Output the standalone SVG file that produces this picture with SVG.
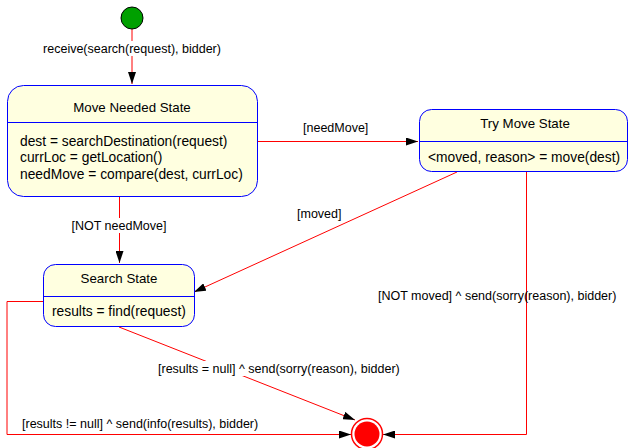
<svg xmlns="http://www.w3.org/2000/svg" width="628" height="448" viewBox="0 0 628 448">
<style>
text{font-family:"Liberation Sans",Arial,sans-serif;font-size:12.5px;fill:#000}
.t{font-size:13.3px}
.b{font-size:13.8px}
.st{fill:#ffffe0;stroke:#0000ff;stroke-width:1}
.dv{stroke:#0000ff;stroke-width:1}
.c{fill:none;stroke:#ff0000;stroke-width:1}
.lb{fill:#fff}
</style>
<defs>
<marker id="ah" markerWidth="12" markerHeight="8" refX="12" refY="4" orient="auto" markerUnits="userSpaceOnUse">
<path d="M0,0 L12,4 L0,8 Z" fill="#000"/>
</marker>
</defs>
<rect width="628" height="448" fill="#fff"/>
<g id="connectors">
<line class="c" x1="132" y1="29" x2="132" y2="84" marker-end="url(#ah)"/>
<line class="c" x1="257" y1="141.5" x2="418" y2="141.5" marker-end="url(#ah)"/>
<line class="c" x1="119.5" y1="196" x2="119.5" y2="263" marker-end="url(#ah)"/>
<line class="c" x1="457" y1="172" x2="194" y2="292" marker-end="url(#ah)"/>
<polyline class="c" points="526.5,172 526.5,434.5 383,434.5" marker-end="url(#ah)"/>
<polyline class="c" points="43,301.5 7,301.5 7,434.5 351,434.5" marker-end="url(#ah)"/>
<line class="c" x1="119" y1="327" x2="355" y2="420" marker-end="url(#ah)"/>
</g>
<g id="labels">
<rect class="lb" x="38" y="41" width="188" height="15"/>
<text x="132" y="53" text-anchor="middle">receive(search(request), bidder)</text>
<text x="303" y="132">[needMove]</text>
<rect class="lb" x="70" y="218" width="98" height="15"/>
<text x="119" y="230" text-anchor="middle">[NOT needMove]</text>
<text x="297" y="218">[moved]</text>
<text x="378" y="300">[NOT moved] ^ send(sorry(reason), bidder)</text>
<rect class="lb" x="156" y="361" width="246" height="15"/>
<text x="158" y="373">[results = null] ^ send(sorry(reason), bidder)</text>
<text x="22" y="428">[results != null] ^ send(info(results), bidder)</text>
</g>
<g id="initial">
<circle cx="132" cy="18" r="11" fill="#00a000" stroke="#000" stroke-width="1"/>
</g>
<g id="moveNeeded">
<rect class="st" x="7.5" y="85.5" width="250" height="111" rx="16"/>
<line class="dv" x1="7.5" y1="122.5" x2="257.5" y2="122.5"/>
<text class="t" x="132" y="112" text-anchor="middle">Move Needed State</text>
<text class="b" x="20" y="145.5">dest = searchDestination(request)</text>
<text class="b" x="20" y="162">currLoc = getLocation()</text>
<text class="b" x="20" y="179">needMove = compare(dest, currLoc)</text>
</g>
<g id="tryMove">
<rect class="st" x="419.5" y="109.5" width="208" height="62" rx="12"/>
<line class="dv" x1="419.5" y1="141.5" x2="627.5" y2="141.5"/>
<text class="t" x="525" y="128" text-anchor="middle">Try Move State</text>
<text class="b" x="428" y="162">&lt;moved, reason&gt; = move(dest)</text>
</g>
<g id="search">
<rect class="st" x="43.5" y="264.5" width="151" height="62" rx="12"/>
<line class="dv" x1="43.5" y1="296.5" x2="194.5" y2="296.5"/>
<text class="t" x="119" y="283" text-anchor="middle">Search State</text>
<text class="b" x="52" y="316">results = find(request)</text>
</g>
<g id="final">
<circle cx="367" cy="434" r="15.5" fill="#fff" stroke="#ff0000" stroke-width="1.5"/>
<circle cx="367" cy="434" r="12.5" fill="#ff0000"/>
</g>
</svg>
